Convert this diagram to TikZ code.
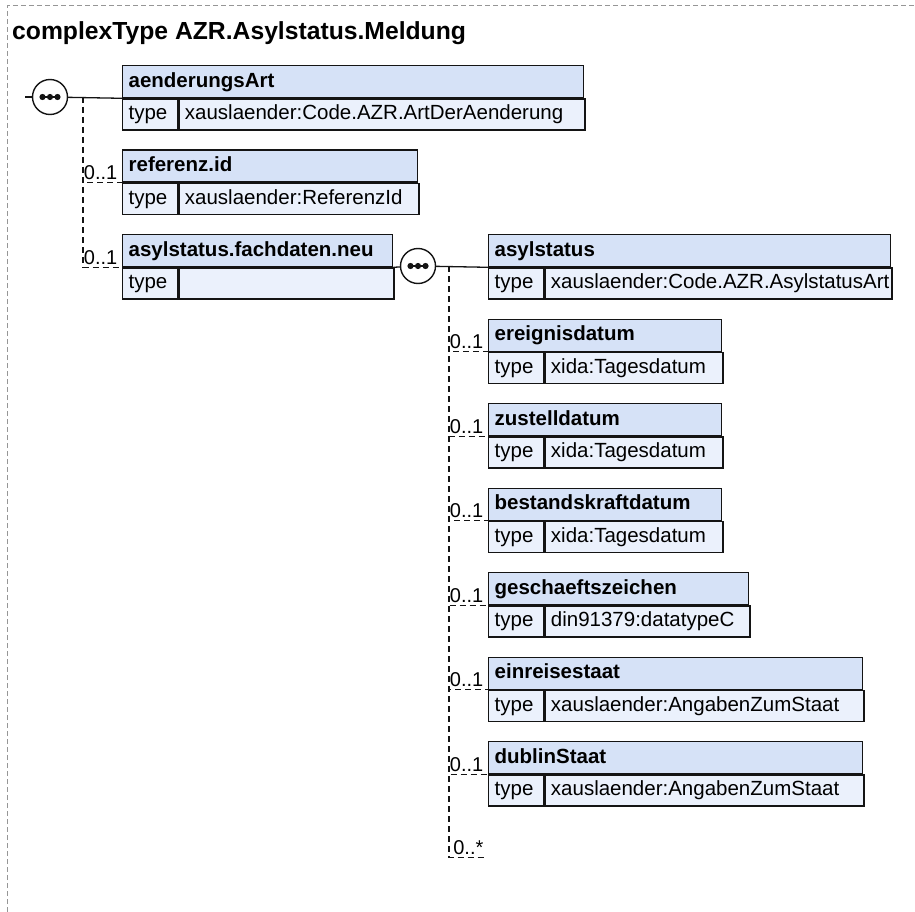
\documentclass[tikz,border=0pt]{standalone}
\usepackage{fontspec}
\setmainfont{Liberation Sans}
\usetikzlibrary{positioning}
\definecolor{lineclr}{RGB}{20,20,20}
\definecolor{hdrfill}{RGB}{214,226,247}
\definecolor{rowfill}{RGB}{235,241,252}
\definecolor{framegray}{RGB}{150,150,150}
\hyphenpenalty=10000
\exhyphenpenalty=10000

\begin{document}
\begin{tikzpicture}[
  x=1pt, y=-1pt,
  every node/.style={font=\fontsize{20.5}{25}\selectfont},
  hdr/.style={draw=lineclr, fill=hdrfill, line width=1.3pt, anchor=north west,
              font=\fontsize{20.5}{25}\selectfont\bfseries, align=left,
              text width=#1, minimum height=32pt, inner xsep=6pt, inner ysep=0pt,
              text height=16pt, text depth=5pt},
  typ/.style={draw=lineclr, fill=rowfill, line width=1.3pt, anchor=north west,
              align=left, text width=43pt, minimum height=31pt,
              inner xsep=6pt, inner ysep=0pt, text height=16pt, text depth=5pt},
  val/.style={typ, text width=#1},
  seq/.style={circle, draw=lineclr, fill=white, line width=1.4pt,
              minimum size=35pt, inner sep=0pt,
              path picture={
                \draw[lineclr, line width=1.3pt] ([xshift=-10pt]path picture bounding box.center)
                  -- ([xshift=10pt]path picture bounding box.center);
                \foreach \dx in {-7.5,0,7.5}
                  \fill[lineclr] ([xshift=\dx pt]path picture bounding box.center) circle (3.1pt);}},
  req/.style={draw=lineclr, line width=1.3pt},
  opt/.style={draw=lineclr, line width=1.3pt, dash pattern=on 6pt off 4pt},
  mult/.style={anchor=base east, font=\fontsize{20}{22}\selectfont,
               inner sep=0pt, xshift=-4pt, yshift=3pt}
]
\useasboundingbox (0,0) rectangle (915,912);

% outer frame
\draw[framegray, line width=1pt, dash pattern=on 5pt off 3pt] (7,912) -- (7,6) -- (915,6);

\node[anchor=base west, inner sep=0pt, font=\fontsize{24.7}{28}\selectfont\bfseries]
  (title) at (12,40) {complexType AZR.Asylstatus.Meldung};

% left sequence
\node[hdr=449pt] (aend) at (122,65) {aenderungsArt};
\node[typ] (aendT) at (aend.south west) {type};
\node[val=394pt] (aendV) at (aendT.north east) {xauslaender:Code.AZR.ArtDerAenderung};

\node[hdr=283pt] (refid) at (122,149.5) {referenz.id};
\node[typ] (refidT) at (refid.south west) {type};
\node[val=228pt] (refidV) at (refidT.north east) {xauslaender:ReferenzId};

\node[hdr=258pt] (fach) at (122,234) {asylstatus.fachdaten.neu};
\node[typ] (fachT) at (fach.south west) {type};
\node[val=203pt] (fachV) at (fachT.north east) {};

% inner sequence
\node[hdr=390pt] (asyl) at (488,234) {asylstatus};
\node[typ] (asylT) at (asyl.south west) {type};
\node[val=335pt] (asylV) at (asylT.north east) {xauslaender:Code.AZR.AsylstatusArt};

\node[hdr=221pt] (ereig) at (488,318.5) {ereignisdatum};
\node[typ] (ereigT) at (ereig.south west) {type};
\node[val=166pt] (ereigV) at (ereigT.north east) {xida:Tagesdatum};

\node[hdr=221pt] (zust) at (488,403) {zustelldatum};
\node[typ] (zustT) at (zust.south west) {type};
\node[val=166pt] (zustV) at (zustT.north east) {xida:Tagesdatum};

\node[hdr=221pt] (best) at (488,487.5) {bestandskraftdatum};
\node[typ] (bestT) at (best.south west) {type};
\node[val=166pt] (bestV) at (bestT.north east) {xida:Tagesdatum};

\node[hdr=248pt] (gesch) at (488,572) {geschaeftszeichen};
\node[typ] (geschT) at (gesch.south west) {type};
\node[val=193pt] (geschV) at (geschT.north east) {din91379:datatypeC};

\node[hdr=362pt] (einr) at (488,656.5) {einreisestaat};
\node[typ] (einrT) at (einr.south west) {type};
\node[val=307pt] (einrV) at (einrT.north east) {xauslaender:AngabenZumStaat};

\node[hdr=362pt] (dubl) at (488,741) {dublinStaat};
\node[typ] (dublT) at (dubl.south west) {type};
\node[val=307pt] (dublV) at (dublT.north east) {xauslaender:AngabenZumStaat};

% sequence symbols
\node[seq] (s1) at (50,97) {};
\node[seq] (s2) at (418,266) {};

\coordinate (in) at (25,97);
\coordinate (b1) at (83,97);
\coordinate (b2) at (449,266);
\coordinate (anyend) at (485,857.5);

% connectors
\draw[req] (in) -- (s1);
\draw[req] (s1) -- (aend.south west);
\draw[opt] (b1) |- (refid.south west) node[mult] {0..1};
\draw[opt] (b1) |- (fach.south west) node[mult] {0..1};

\draw[req] (fach.south east) -- (s2);
\draw[req] (s2) -- (asyl.south west);
\draw[opt] (b2) |- (ereig.south west) node[mult] {0..1};
\draw[opt] (b2) |- (zust.south west) node[mult] {0..1};
\draw[opt] (b2) |- (best.south west) node[mult] {0..1};
\draw[opt] (b2) |- (gesch.south west) node[mult] {0..1};
\draw[opt] (b2) |- (einr.south west) node[mult] {0..1};
\draw[opt] (b2) |- (dubl.south west) node[mult] {0..1};
\draw[opt] (b2) |- (anyend) node[mult, xshift=3pt] {0..*};

\end{tikzpicture}
\end{document}
